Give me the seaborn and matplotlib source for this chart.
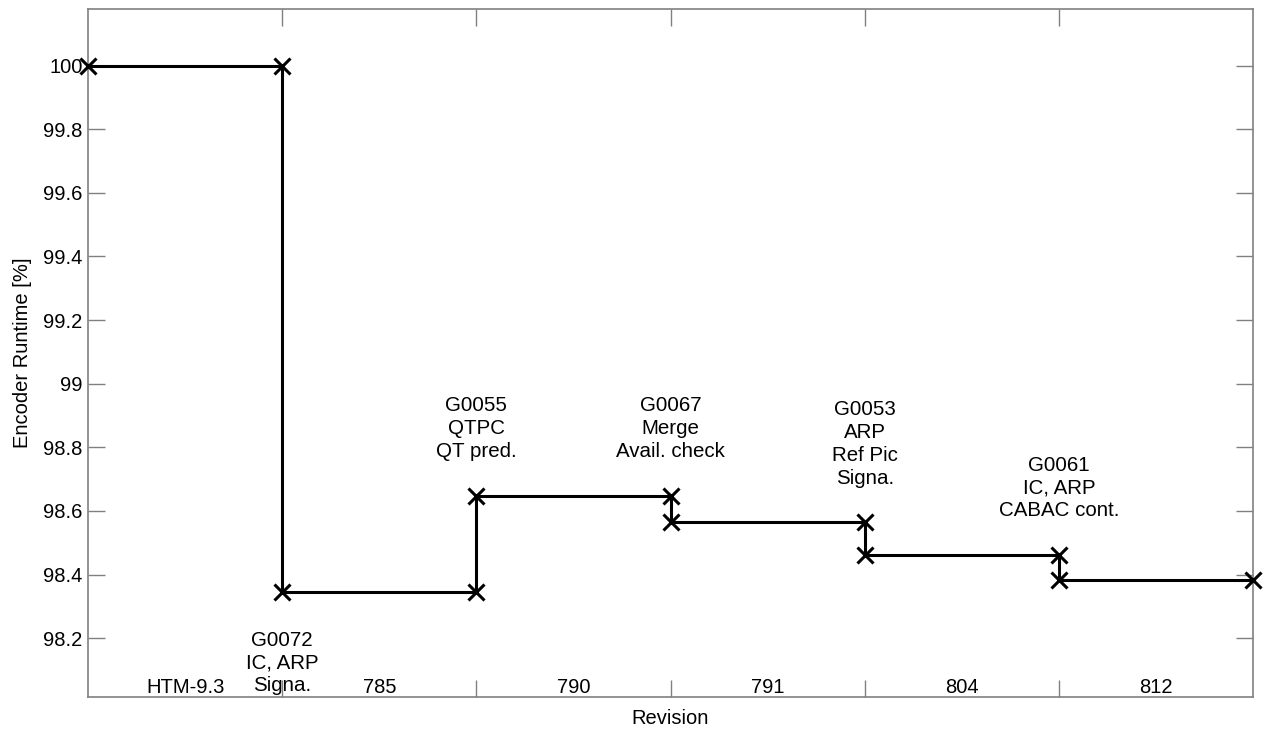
import numpy as np
import pandas as pd
from matplotlib import pyplot as plt
import seaborn as sns

# revisions (one segment each) and encoder runtime of each segment
revisions = ["HTM-9.3", "785", "790", "791", "804", "812"]
runtime = [100.0, 98.346, 98.648, 98.564, 98.461, 98.383]

# proposals adopted at each boundary between revisions
proposals = [
    "G0072\nIC, ARP\nSigna.",
    "G0055\nQTPC\nQT pred.",
    "G0067\nMerge\nAvail. check",
    "G0053\nARP\nRef Pic\nSigna.",
    "G0061\nIC, ARP\nCABAC cont.",
]

sns.set_style("white")
plt.rcParams["font.family"] = ["Liberation Sans", "DejaVu Sans"]
plt.rcParams["text.color"] = "black"
plt.rcParams["axes.labelcolor"] = "black"
plt.rcParams["xtick.labelcolor"] = "black"
plt.rcParams["ytick.labelcolor"] = "black"

# step path: each revision is a flat segment, jumps at the boundaries
xs, ys = [], []
for i, v in enumerate(runtime):
    xs += [i, i + 1]
    ys += [v, v]
df = pd.DataFrame({"pos": xs, "runtime": ys})

fig, ax = plt.subplots(figsize=(12.65, 7.38), dpi=100)
sns.lineplot(
    data=df,
    x="pos",
    y="runtime",
    estimator=None,
    sort=False,
    color="black",
    linewidth=2.2,
    marker="x",
    markersize=12,
    markeredgewidth=2.2,
    markeredgecolor="black",
    clip_on=False,
    zorder=5,
    ax=ax,
)

ax.set_xlim(0, len(revisions))
ax.set_ylim(98.015, 100.178)
ax.set_yticks(np.arange(98.2, 100.01, 0.2))
ax.set_yticklabels(["98.2", "98.4", "98.6", "98.8", "99", "99.2", "99.4", "99.6", "99.8", "100"])
ax.set_xticks(range(1, len(revisions)))
ax.set_xticklabels([])
ax.tick_params(
    axis="both", direction="in", length=12, width=1, color="#808080",
    top=True, right=True, bottom=True, left=True, labelsize=14.5, pad=4,
)

for sp in ax.spines.values():
    sp.set_color("#808080")
    sp.set_linewidth(1.2)

# revision names inside the axes at the bottom
for i, name in enumerate(revisions):
    ax.text(i + 0.5, 0.0, name, transform=ax.get_xaxis_transform(),
            ha="center", va="bottom", fontsize=14.5)

# proposal labels at each jump
for k, text in enumerate(proposals, start=1):
    before, after = runtime[k - 1], runtime[k]
    if k == 1:
        ax.annotate(text, (k, min(before, after)), xytext=(0, -28),
                    textcoords="offset points", ha="center", va="top",
                    fontsize=14.8, linespacing=1.25)
    else:
        ax.annotate(text, (k, max(before, after)), xytext=(0, 25),
                    textcoords="offset points", ha="center", va="bottom",
                    fontsize=14.8, linespacing=1.25)

ax.set_xlabel("Revision", fontsize=14.5, labelpad=5)
ax.set_ylabel("Encoder Runtime [%]", fontsize=14.5, labelpad=8)

plt.subplots_adjust(left=88 / 1265, right=1253 / 1265, top=1 - 9 / 738, bottom=1 - 697 / 738)
plt.savefig("out.png", dpi=100)
